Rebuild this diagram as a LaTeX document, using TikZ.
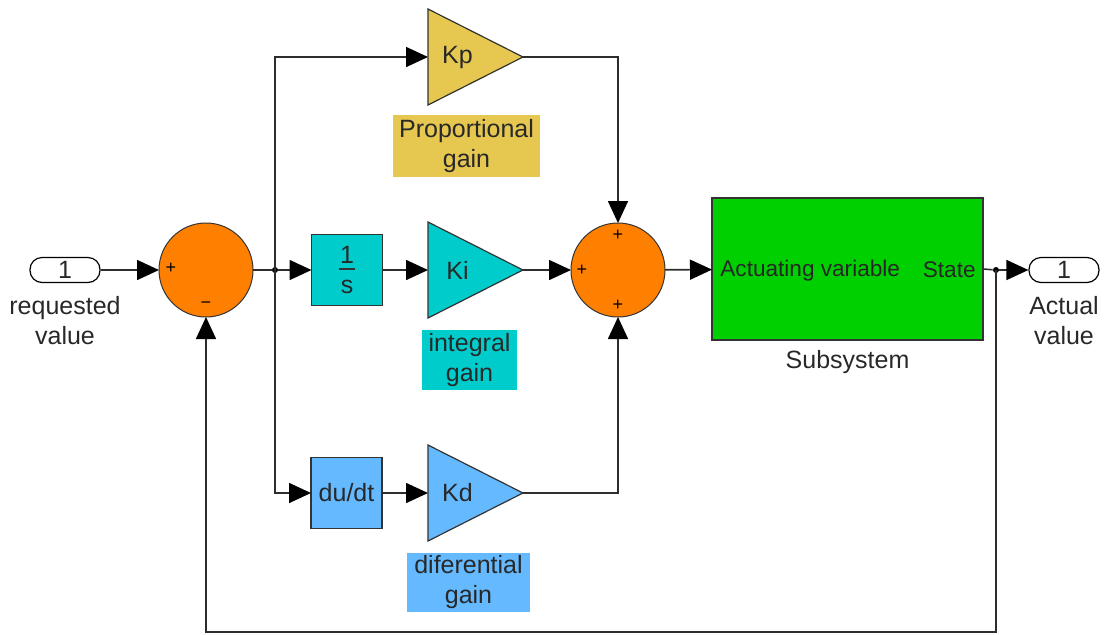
\documentclass[tikz,border=0pt]{standalone}
\usepackage{fontspec}
\setmainfont{Liberation Sans}
\usepackage{tikz}
\usetikzlibrary{
  arrows.meta,
  positioning,
  shapes.geometric,
  calc
}
\tikzset{
  every node/.style={inner sep=2pt}
}
\definecolor{sumOrange}{RGB}{255, 128, 0}
\definecolor{gainYellow}{RGB}{230, 200, 80}
\definecolor{integCyan}{RGB}{0, 204, 204}
\definecolor{derivBlue}{RGB}{100, 185, 255}
\definecolor{plantGreen}{RGB}{0, 208, 0}
\definecolor{wireGray}{RGB}{45, 45, 45}
\definecolor{textGray}{RGB}{40, 40, 40}

\begin{document}
\begin{tikzpicture}[
    x=0.5pt, y=-0.5pt,
    font=\fontsize{12.5}{15}\selectfont,
    text=textGray,
    port/.style={rectangle, draw=black, rounded corners=6pt, line width=0.6pt, minimum width=35pt, minimum height=12.5pt, inner sep=0pt},
    sumnode/.style={circle, draw=black!80, fill=sumOrange, line width=0.5pt, minimum size=47pt, inner sep=0pt, outer sep=0pt},
    gain/.style={isosceles triangle, isosceles triangle stretches, draw=black!80, line width=0.6pt, minimum width=48pt, minimum height=47.5pt, inner sep=0pt, outer sep=0pt, anchor=lower side},
    block/.style={rectangle, draw=black!80, line width=0.6pt, minimum width=35.5pt, minimum height=35.5pt, inner sep=0pt, outer sep=0pt, align=center},
    tag/.style={rectangle, align=center, inner sep=0pt},
    sign/.style={font=\fontsize{9}{10}\selectfont, text=black, inner sep=0pt},
    dot/.style={circle, fill=black, minimum size=3pt, inner sep=0pt},
    wire/.style={draw=wireGray, line width=0.8pt},
    arrow/.style={-{Triangle[length=11pt, width=10pt, color=black]}, draw=wireGray, line width=0.8pt}
]

    \useasboundingbox (0,0) rectangle (1110,634);

    % input and first summation
    \node[port] (inport) at (65,270) {1};
    \node[tag, anchor=north, below=6.5pt of inport] (inlabel) {requested\\value};

    \node[sumnode] (sum1) at (206,270) {};
    \node[sign] at ($(sum1.center)+(-35,-2)$) {+};
    \node[sign] at ($(sum1.center)+(0,35)$) {−};

    \node[dot] (br1) at (275,270) {};

    % proportional path
    \node[gain, fill=gainYellow] (kp) at (428,57) {};
    \node at ($(kp.lower side)!0.31!(kp.apex)$) {Kp};
    \node[tag, fill=gainYellow, minimum width=73.5pt, minimum height=31pt] (kplabel) at (466.5,146) {Proportional\\gain};

    % integral path
    \node[block, fill=integCyan] (integ) at (347,270) {1\\s};
    \draw[black!80, line width=0.8pt] ($(integ.center)+(-8,-1)$) -- ($(integ.center)+(8,-1)$);
    \node[gain, fill=integCyan] (ki) at (428,270) {};
    \node at ($(ki.lower side)!0.31!(ki.apex)$) {Ki};
    \node[tag, fill=integCyan, minimum width=47.5pt, minimum height=30pt] (kilabel) at (469.5,360) {integral\\gain};

    % derivative path
    \node[block, fill=derivBlue] (deriv) at (346.5,493) {du/dt};
    \node[gain, fill=derivBlue] (kd) at (428,493) {};
    \node at ($(kd.lower side)!0.31!(kd.apex)$) {Kd};
    \node[tag, fill=derivBlue, minimum width=61.5pt, minimum height=29.5pt] (kdlabel) at (468.5,582) {diferential\\gain};

    % second summation and plant
    \node[sumnode] (sum2) at (618,270) {};
    \node[sign] at ($(sum2.center)+(0,-35)$) {+};
    \node[sign] at ($(sum2.center)+(-36,0)$) {+};
    \node[sign] at ($(sum2.center)+(0,35)$) {+};

    \node[block, fill=plantGreen, minimum width=135.5pt, minimum height=71pt] (plant) at (847.5,269) {};
    \node[anchor=west, text=black!85, font=\fontsize{11.3}{13}\selectfont] (plantin) at (716,271) {Actuating variable};
    \node[anchor=east, text=black!85, font=\fontsize{11.3}{13}\selectfont] (plantout) at (980,270) {State};
    \node[below=3pt of plant] (plantlabel) {Subsystem};

    \node[dot] (br2) at (996,270) {};
    \node[port] (outport) at (1064,270) {1};
    \node[tag, anchor=north, below=6.5pt of outport] (outlabel) {Actual\\value};

    \coordinate (fb) at (996,632);

    % connectors
    \draw[arrow] (inport) -- (sum1);
    \draw[wire] (sum1) -- (br1);
    \draw[arrow] (br1.center) |- (kp.lower side);
    \draw[arrow] (br1) -- (integ);
    \draw[arrow] (br1.center) |- (deriv.west);
    \draw[arrow] (integ) -- (ki.lower side);
    \draw[arrow] (deriv) -- (kd.lower side);
    \draw[arrow] (kp.apex) -| (sum2.north);
    \draw[arrow] (ki.apex) -- (sum2.west);
    \draw[arrow] (kd.apex) -| (sum2.south);
    \draw[arrow] (sum2) -- (plant);
    \draw[wire] (plant.east) -- (br2);
    \draw[arrow] (br2) -- (outport);
    \draw[arrow] (br2.center) -- (fb) -| (sum1.south);

\end{tikzpicture}
\end{document}
